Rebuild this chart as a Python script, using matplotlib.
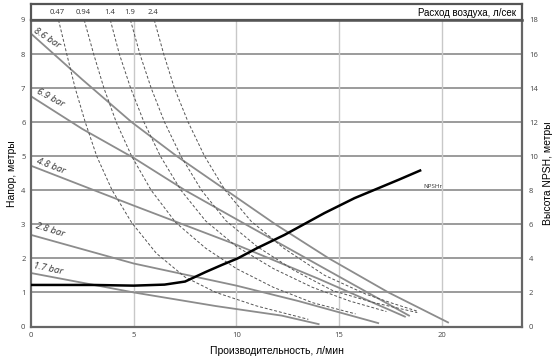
import matplotlib
matplotlib.use('Agg')
import matplotlib.pyplot as plt

# pressure lines: flow (l/min) vs head (m)
bar_names = ['8.6 bar', '6.9 bar', '4.8 bar', '2.8 bar', '1.7 bar']
p86_x = [0, 2.5, 4.9, 7.1, 9.5, 11.9, 14.5, 17.4, 20.3]
p86_y = [8.6, 7.25, 6.0, 5.0, 4.0, 3.0, 2.0, 1.0, 0.12]
p69_x = [0, 2.5, 5, 7.5, 10, 14, 18.4]
p69_y = [6.76, 5.8, 4.95, 4.0, 3.15, 1.8, 0.32]
p48_x = [0, 5, 10, 14, 18.2]
p48_y = [4.72, 3.55, 2.4, 1.4, 0.29]
p28_x = [0, 5, 10, 13, 16.9]
p28_y = [2.69, 1.85, 1.2, 0.75, 0.1]
p17_x = [0, 5, 9, 12.2, 14.0]
p17_y = [1.57, 1.0, 0.6, 0.32, 0.07]

# air consumption curves (l/s)
air_names = ['0.47', '0.94', '1.4', '1.9', '2.4']
a047_x = [1.34, 1.74, 2.15, 2.64, 3.2, 3.95, 4.9, 6.1, 7.5, 9, 11, 13.5]
a047_y = [9, 8, 7, 6, 5, 4, 3.05, 2.15, 1.45, 1.0, 0.6, 0.21]
a094_x = [2.59, 3.05, 3.55, 4.15, 4.9, 5.85, 7.05, 8.5, 10, 11.8, 13.7, 15.8]
a094_y = [9, 8, 7, 6, 5, 4, 3.05, 2.3, 1.7, 1.15, 0.7, 0.37]
a14_x = [3.86, 4.3, 4.85, 5.5, 6.3, 7.3, 8.5, 10, 11.8, 13.7, 15.5, 17.3]
a14_y = [9, 8, 7, 6, 5, 4, 3.1, 2.35, 1.7, 1.15, 0.75, 0.44]
a19_x = [4.84, 5.3, 5.85, 6.5, 7.3, 8.3, 9.5, 11, 12.8, 14.7, 16.7, 18.8]
a19_y = [9, 8, 7, 6, 5, 4, 3.1, 2.35, 1.65, 1.05, 0.7, 0.41]
a24_x = [6.0, 6.46, 6.98, 7.65, 8.45, 9.45, 10.7, 12.3, 14.3, 16.3, 17.6, 18.8]
a24_y = [9, 8, 7, 6, 5, 4, 3.1, 2.3, 1.5, 0.95, 0.68, 0.45]

# NPSHr (m, right axis)
npsh_x = [0, 3, 5, 6.5, 7.5, 8.5, 9.3, 10.06, 11, 12.34, 14.28, 15.75, 17.9, 18.94]
npsh_y = [2.44, 2.44, 2.4, 2.46, 2.64, 3.2, 3.62, 4.0, 4.6, 5.38, 6.66, 7.54, 8.62, 9.16]

bar_x = [p86_x, p69_x, p48_x, p28_x, p17_x]
bar_y = [p86_y, p69_y, p48_y, p28_y, p17_y]
air_x = [a047_x, a094_x, a14_x, a19_x, a24_x]
air_y = [a047_y, a094_y, a14_y, a19_y, a24_y]

plt.rcParams['font.family'] = ['Open Sans', 'DejaVu Sans']

fig = plt.figure(figsize=(5.58, 3.59), dpi=100)
W, H = 558.0, 359.0
x0, x1, y0, y1 = 31, 522, 326.5, 20
ax = fig.add_axes([x0 / W, 1 - y0 / H, (x1 - x0) / W, (y0 - y1) / H])
ax.set_xlim(0, 23.9)
ax.set_ylim(0, 9)

# grid
for v in range(1, 9):
    ax.axhline(v, color='#808080', lw=1.1, zorder=1)
for v in [5, 10, 15, 20]:
    ax.axvline(v, color='#c8c8c8', lw=1.0, zorder=1)

for xs, ys in zip(bar_x, bar_y):
    ax.plot(xs, ys, color='#8c8c8c', lw=1.3, zorder=2)
for xs, ys in zip(air_x, air_y):
    ax.plot(xs, ys, color='#555555', lw=0.7, ls=(0, (3, 2)), zorder=3)

rots = [-33, -28, -21, -17, -12]
lab_pos = [(0.15, 8.72), (0.3, 6.93), (0.3, 4.88), (0.25, 2.95), (0.1, 1.8)]
for name, (lx, ly), r in zip(bar_names, lab_pos, rots):
    ax.text(lx, ly, name, rotation=r, rotation_mode='anchor', fontsize=6.8,
            fontstyle='italic', color='#333333', ha='left', va='center')

ax.set_xticks([0, 5, 10, 15, 20])
ax.set_yticks(range(0, 10))
ax.tick_params(length=0, labelsize=5.5, labelcolor='#444444', pad=4)
for s in ['left', 'bottom', 'right']:
    ax.spines[s].set_color('#666666')
    ax.spines[s].set_linewidth(1.6)
ax.spines['top'].set_color('#555555')
ax.spines['top'].set_linewidth(1.8)
ax.set_xlabel('Производительность, л/мин', fontsize=7.5, labelpad=5,
              family=['Liberation Sans', 'DejaVu Sans'])
ax.set_ylabel('Напор, метры', fontsize=7.5, labelpad=3,
              family=['Liberation Sans', 'DejaVu Sans'])

ax2 = ax.twinx()
ax2.set_ylim(0, 18)
ax2.set_yticks(range(0, 19, 2))
ax2.tick_params(length=0, labelsize=5.5, labelcolor='#444444', pad=5)
ax2.plot(npsh_x, npsh_y, color='black', lw=1.8, zorder=4)
ax2.text(19.56, 8.25, 'NPSHr', fontsize=4.5, color='#333333', ha='center', va='center')
ax2.set_ylabel('Высота NPSH, метры', fontsize=7.5, labelpad=4,
               family=['Liberation Sans', 'DejaVu Sans'])
for s in ax2.spines.values():
    s.set_visible(False)

# top box with air flow labels
axt = fig.add_axes([x0 / W, 1 - y1 / H, (x1 - x0) / W, 16 / H])
axt.set_xlim(0, 23.9)
axt.set_ylim(0, 1)
axt.set_xticks([])
axt.set_yticks([])
for s in axt.spines.values():
    s.set_color('#555555')
    s.set_linewidth(1.6)
for name, xs in zip(air_names, air_x):
    axt.text(xs[0] - 0.05, 0.45, name, fontsize=5.5, color='#333333', ha='center', va='center')
axt.text(23.6, 0.45, 'Расход воздуха, л/сек', fontsize=7, ha='right', va='center',
         family=['Liberation Sans', 'DejaVu Sans'])

fig.savefig('out.png', dpi=100)
